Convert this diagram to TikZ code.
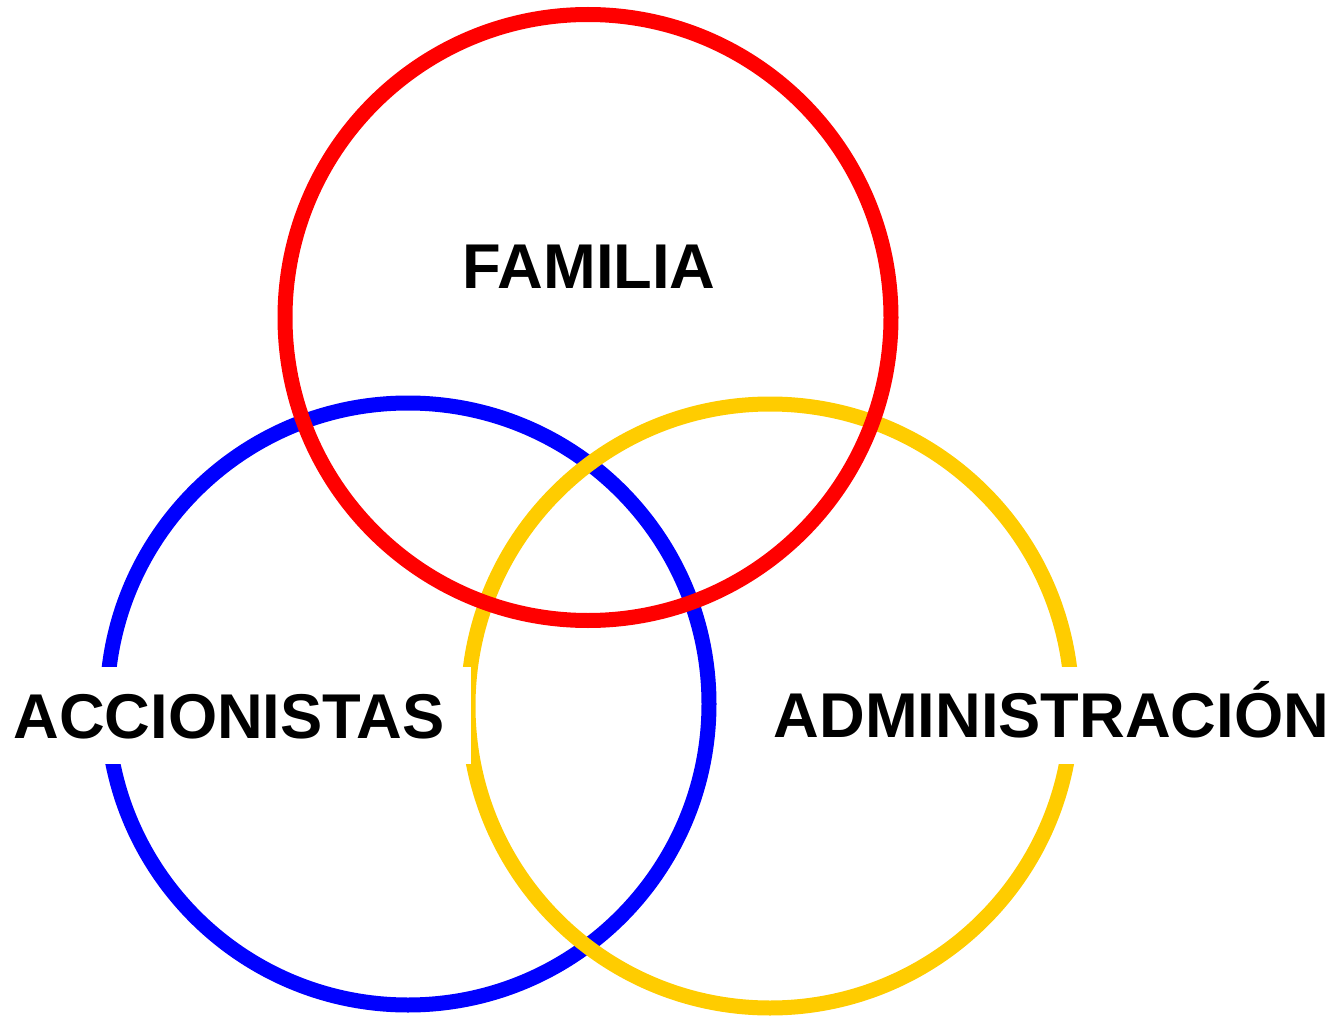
\documentclass[tikz,border=0pt]{standalone}
\usepackage{fontspec}
\setmainfont{Liberation Sans}
\usepackage{tikz}
\usetikzlibrary{positioning}
\definecolor{rojo}{RGB}{255,0,0}
\definecolor{azul}{RGB}{0,0,255}
\definecolor{amarillo}{RGB}{255,204,0}
\tikzset{
    circulo/.style={
           circle,
           line width=0.3cm,
           inner sep=0pt,
           },
    etiqueta/.style={
           font=\fontsize{36}{36}\selectfont\bfseries,
           text height=25.8pt,
           text depth=0pt,
           inner sep=0pt,
           },
    tapa/.style={
           etiqueta,
           fill=white,
           inner xsep=0.52cm,
           minimum height=1.94cm,
           },
}
\begin{document}
\begin{tikzpicture}
 \useasboundingbox (0,0) rectangle (26.86,-20.38);

 % the three circles (blue first, red on top)
 \node[circulo,  	% layout (defined above)
  draw=azul,
  minimum size=12.04cm] (AZUL) at (8.16,-14.08) {};

 \node[circulo,
  draw=amarillo,
  minimum size=12.08cm] (AMARILLO) at (15.4,-14.12) {};

 \node[circulo,
  draw=rojo,
  minimum size=12.12cm] (ROJO) at (11.76,-6.35) {};

 % labels, the lower two on white to cut the circles
 \node[etiqueta] (FAMILIA) at ([xshift=0.02cm,yshift=1.03cm]ROJO.center) {FAMILIA};

 \node[tapa] (ACCIONISTAS) at ([xshift=-3.58cm,yshift=-0.23cm]AZUL.center) {ACCIONISTAS};

 \node[tapa] (ADMINISTRACION) at ([xshift=5.63cm,yshift=-0.18cm]AMARILLO.center) {ADMINISTRACIÓN};
\end{tikzpicture}
\end{document}
